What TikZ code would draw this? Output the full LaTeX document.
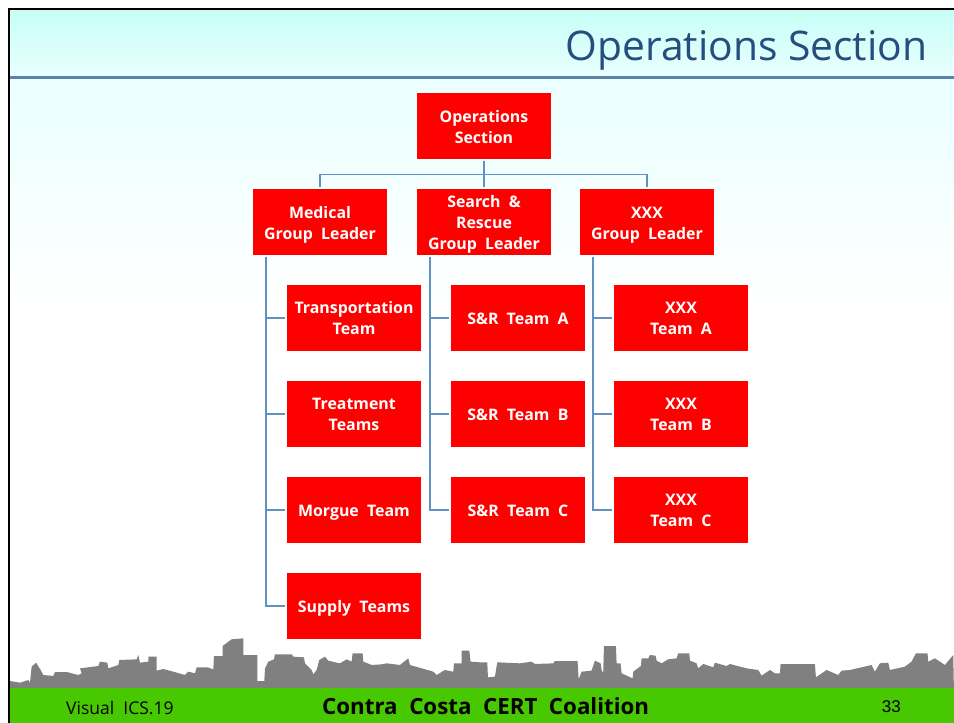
\documentclass[tikz,border=0pt]{standalone}
\usepackage{fontspec}
\setmainfont[WordSpace=2]{Open Sans}
\newfontfamily\titlefont{Open Sans}
\newfontfamily\numfont{Liberation Sans}
\definecolor{boxred}{HTML}{FF0000}
\definecolor{linkblue}{HTML}{5F92C2}
\definecolor{rulecol}{HTML}{5C84A6}
\definecolor{titlecol}{HTML}{234E7E}
\definecolor{footgreen}{HTML}{48C800}
\definecolor{skygray}{HTML}{808080}
\definecolor{sky1}{HTML}{C6FFF6}
\definecolor{sky2}{HTML}{EAFFFF}
\newcommand{\lineraise}[1]{\rule{0pt}{#1pt}}
\tikzset{
  box/.style={fill=boxred,draw=none,text=white,minimum width=134pt,minimum height=66pt,inner sep=0pt,align=center,
    font=\fontsize{15.9}{21}\selectfont\bfseries},
  boxone/.style={box,
    execute at begin node={\rule{0pt}{17pt}},
    execute at end node={\rule[-3.6pt]{0pt}{3.6pt}}},
  link/.style={draw=linkblue,line width=1.4pt,shorten >=1.5pt,shorten <=1.5pt}
}
\begin{document}
\begin{tikzpicture}[x=1pt,y=-1pt]
\useasboundingbox (0,0) rectangle (954,723);
\fill[white] (0,0) rectangle (954,723);
\shade[top color=sky1,bottom color=sky2] (9,9) rectangle (954,78);
\shade[top color=sky2,bottom color=white] (9,78) rectangle (954,310);
\draw[rulecol,line width=2.5pt] (9,77.5) -- (954,77.5);
\begin{scope}[shift={(0,620)},x=0.3333pt,y=-0.3333pt]
\fill[skygray] (30,206) -- (30,183) -- (60,188) -- (85,180) -- (90,188) -- (95,140) -- (108,128) -- (122,150) -- (130,165) -- (160,168) -- (165,156) -- (200,156) -- (235,165) -- (245,160) -- (240,145) -- (295,138) -- (300,125) -- (322,128) -- (325,145) -- (355,135) -- (358,120) -- (410,118) -- (415,105) -- (420,128) -- (445,125) -- (445,110) -- (470,110) -- (470,152) -- (490,147) -- (520,155) -- (555,165) -- (565,155) -- (585,160) -- (590,142) -- (622,142) -- (640,148) -- (642,108) -- (668,108) -- (668,78) -- (695,58) -- (730,55) -- (730,105) -- (772,105) -- (772,183) -- (793,183) -- (795,145) -- (805,125) -- (822,118) -- (825,103) -- (875,103) -- (880,110) -- (912,112) -- (915,130) -- (935,150) -- (940,163) -- (950,150) -- (958,120) -- (975,110) -- (985,122) -- (1010,128) -- (1020,130) -- (1040,118) -- (1055,125) -- (1058,100) -- (1088,100) -- (1090,125) -- (1115,135) -- (1145,133) -- (1160,130) -- (1200,135) -- (1225,115) -- (1230,135) -- (1300,155) -- (1310,165) -- (1335,150) -- (1360,155) -- (1362,130) -- (1385,130) -- (1385,92) -- (1408,92) -- (1412,125) -- (1440,127)
 -- (1462,127) -- (1464,172) -- (1485,170) -- (1492,127) -- (1560,130) -- (1595,125) -- (1605,132) -- (1660,130) -- (1665,123) -- (1733,123) -- (1736,178) -- (1745,155) -- (1775,152) -- (1785,122) -- (1802,130) -- (1806,155) -- (1810,155) -- (1812,78) -- (1848,78) -- (1850,130) -- (1862,130) -- (1865,160) -- (1898,175) -- (1900,155) -- (1923,138) -- (1925,115) -- (1945,115) -- (1950,105) -- (1967,107) -- (1970,122) -- (1985,130) -- (2005,118) -- (2030,115) -- (2035,100) -- (2068,100) -- (2070,122) -- (2090,130) -- (2095,145) -- (2110,132) -- (2140,142) -- (2145,128) -- (2180,138) -- (2190,132) -- (2240,145) -- (2275,150) -- (2285,167) -- (2310,150) -- (2325,160) -- (2340,160) -- (2342,132) -- (2445,132) -- (2448,172) -- (2480,150) -- (2515,165) -- (2525,152) -- (2550,150) -- (2615,135) -- (2625,155) -- (2640,130) -- (2665,128) -- (2670,150) -- (2715,140) -- (2735,125) -- (2748,100) -- (2783,100) -- (2785,125) -- (2805,115) -- (2835,135) -- (2860,105) -- (2862,206) -- cycle;
\end{scope}
\fill[footgreen] (9,688) rectangle (954,723);
\draw[black,line width=2pt] (8.5,723) -- (8.5,8.5) -- (954,8.5);
\node[anchor=base east,text=titlecol,inner sep=0pt,font=\titlefont\fontsize{40.8}{41}\selectfont] (title) at (927.5,60) {Operations Section};
\node[box] (ops) at (484,126) {\lineraise{14.5}Operations\\Section};
\node[box] (med) at (320,222) {\lineraise{18}Medical\\Group Leader};
\node[box] (sar) at (484,222) {\lineraise{16}Search \&\\Rescue\\Group Leader};
\node[box] (xxx) at (647,222) {\lineraise{18}XXX\\Group Leader};
\node[box] (m1) at (354,318) {\lineraise{12.5}Transportation\\Team};
\node[box] (m2) at (354,414) {\lineraise{12.5}Treatment\\Teams};
\node[boxone] (m3) at (354,510) {Morgue Team};
\node[boxone] (m4) at (354,606) {Supply Teams};
\node[boxone] (s1) at (518,318) {S\&R Team A};
\node[boxone] (s2) at (518,414) {S\&R Team B};
\node[boxone] (s3) at (518,510) {S\&R Team C};
\node[box] (x1) at (681,318) {\lineraise{12.5}XXX\\Team A};
\node[box] (x2) at (681,414) {\lineraise{12.5}XXX\\Team B};
\node[box] (x3) at (681,510) {\lineraise{12.5}XXX\\Team C};
\draw[link] (ops.south) -- ++(0,15) -| (med.north);
\draw[link] (ops.south) -- (sar.north);
\draw[link] (ops.south) -- ++(0,15) -| (xxx.north);
\foreach \g/\t in {med/m1,med/m2,med/m3,med/m4,sar/s1,sar/s2,sar/s3,xxx/x1,xxx/x2,xxx/x3}{
  \draw[link] ([xshift=13.2pt]\g.south west) |- (\t.west);
}
\node[anchor=base west,inner sep=0pt,font=\fontsize{17.5}{17}\selectfont] (foot1) at (66,714) {Visual ICS.19};
\node[anchor=base west,inner sep=0pt,font=\fontsize{22.3}{23}\selectfont\bfseries] (foot2) at (322,714) {Contra Costa CERT Coalition};
\node[anchor=base east,inner sep=0pt,font=\numfont\fontsize{17}{17}\selectfont] (foot3) at (901,712) {33};
\end{tikzpicture}
\end{document}
